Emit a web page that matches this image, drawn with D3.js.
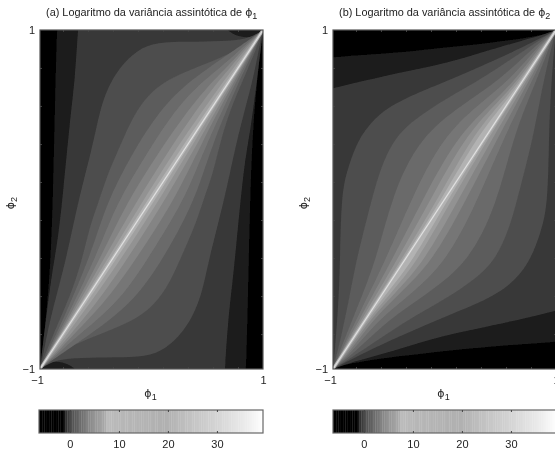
<!DOCTYPE html>
<html><head><meta charset="utf-8">
<script src="https://cdn.jsdelivr.net/npm/d3@7"></script>
<style>html,body{margin:0;background:#fff}svg{display:block}text{font-family:"Liberation Sans",Arial,sans-serif;fill:#222}</style>
</head><body><svg id="c" width="555" height="451"></svg>
<script>
// contour levels of the log-variance, from outermost band to the ridge
const levels = [-1.03,-0.5,0.28,1.08,2.05,2.84,3.72,4.8,6.2,7.3];
// colour bar read-off: value -> grey
const barValues = [-6.3,-1.4,-1.2,-0.7,0,0.6,2.4,4.1,5.4,7.1,7.5,10.2,19.7,23.8,29.9,36,39.4];
const barGreys  = [0,0,16,51,72,85,111,138,153,168,188,184,176,192,212,236,255];
const barTicks = [0,10,20,30];
const axisTicks = [-1,1];
const minorTicks = [-0.794,-0.57,-0.345,-0.121,0.103,0.327,0.552,0.776];
const ridge = [[-1,-1],[1,1]];

// phi2 rows at which the inner contours were read
const rowsA = [-0.888,-0.711,-0.327,-0.027,0.274,0.605,0.805,0.912];
const rowsB = [-0.917,-0.711,-0.369,0.027,0.369,0.558,0.705,0.912];

// Panel (a): upper contour of each level (the lower one is its point reflection)
const a1 = [[-1,-1],[-0.973,-0.858],[-0.91,-0.463],[-0.883,0.027],[-0.865,0.593],[-0.848,1],[-0.84,1.1],[0,1.2],[1,1.1],[1,1]];
const a2 = [[-1,-1],[-0.946,-0.705],[-0.892,-0.428],[-0.839,-0.239],[-0.794,0.032],[-0.731,0.469],[-0.686,0.711],[-0.659,1],[-0.65,1.1],[0,1.2],[0.6,1.1],[0.66,1],[0.79,0.955],[0.93,0.955],[1,1]];
const a3 = [[-1,-1],[-0.973,-0.923],[-0.91,-0.705],[-0.794,-0.428],[-0.722,-0.215],[-0.641,0.032],[-0.525,0.322],[-0.462,0.528],[-0.39,0.664],[-0.283,0.782],[-0.13,0.882],[0.049,0.929],[0.345,0.929],[0.641,0.935],[0.848,0.941],[1,1]];
const a4 = [[-1,-1],[-0.946,-0.9],[-0.821,-0.705],[-0.704,-0.528],[-0.614,-0.333],[-0.552,-0.156],[-0.48,-0.027],[-0.399,0.139],[-0.309,0.274],[-0.22,0.41],[-0.13,0.528],[-0.013,0.628],[0.139,0.705],[0.345,0.764],[0.641,0.841],[0.821,0.9],[1,1]];
const a5 = [-0.924,-0.794,-0.543,-0.408,-0.175,0.148,0.57,0.812];
const a6 = [-0.915,-0.771,-0.489,-0.318,-0.04,0.283,0.668,0.839];
const a7 = [-0.91,-0.753,-0.444,-0.229,0.058,0.408,0.713,0.857];
const a8 = [-0.904,-0.74,-0.408,-0.148,0.139,0.48,0.74,0.874];
const a9 = [-0.899,-0.726,-0.372,-0.094,0.193,0.543,0.767,0.892];
const a10 = [-0.892,-0.717,-0.345,-0.058,0.238,0.578,0.789,0.901];

// Panel (b)
const b1 = [[-1,-1],[-1.2,-0.9],[-1.2,0.82],[-1,0.841],[-0.578,0.858],[-0.283,0.876],[0.166,0.906],[0.614,0.941],[0.919,0.976],[1,1]];
const b2 = [[-1,-1],[-1.2,-0.9],[-1.2,0.62],[-1,0.658],[-0.578,0.723],[-0.283,0.764],[0.022,0.805],[0.318,0.864],[0.614,0.923],[0.883,0.97],[1,1]];
const b3 = [[-1,-1],[-0.982,-0.888],[-0.955,-0.652],[-0.937,-0.416],[-0.928,0.027],[-0.865,0.192],[-0.758,0.381],[-0.578,0.51],[-0.426,0.569],[-0.283,0.617],[0.022,0.699],[0.318,0.782],[0.614,0.87],[0.883,0.959],[1,1]];
const b4 = [[-1,-1],[-0.928,-0.817],[-0.848,-0.563],[-0.794,-0.369],[-0.704,-0.133],[-0.641,0.027],[-0.578,0.174],[-0.462,0.351],[-0.283,0.469],[0.022,0.599],[0.318,0.705],[0.614,0.835],[0.883,0.953],[1,1]];
const b5 = [-0.951,-0.83,-0.614,-0.471,-0.22,0.157,0.498,0.821];
const b6 = [-0.942,-0.794,-0.534,-0.283,-0.013,0.3,0.587,0.848];
const b7 = [-0.937,-0.767,-0.48,-0.175,0.112,0.408,0.637,0.865];
const b8 = [-0.931,-0.749,-0.435,-0.103,0.184,0.453,0.664,0.883];
const b9 = [-0.926,-0.731,-0.399,-0.04,0.247,0.489,0.682,0.897];
const b10 = [-0.922,-0.722,-0.381,-0.004,0.291,0.525,0.695,0.906];

const onRows = (vals,rows)=>[[-1,-1],...vals.map((v,i)=>[v,rows[i]]),[1,1]];
const curvesA = [a1,a2,a3,a4,...[a5,a6,a7,a8,a9,a10].map(v=>onRows(v,rowsA))];
const curvesB = [b1,b2,b3,b4,...[b5,b6,b7,b8,b9,b10].map(v=>onRows(v,rowsB))];

const grey = d3.scaleLinear().domain(barValues).range(barGreys.map(g=>d3.rgb(g,g,g)));
const svg = d3.select('#c');
const defs = svg.append('defs');
const addBlur=(id,s)=>defs.append('filter').attr('id',id).attr('x','-5%').attr('y','-5%').attr('width','110%').attr('height','110%')
  .append('feGaussianBlur').attr('stdDeviation',s);
addBlur('soft',0.5);addBlur('txt',0.3);

function panel(id,x0,curves,letter,sub,barLeft){
  const W=223,T=30,H=339;
  const x=d3.scaleLinear().domain([-1,1]).range([x0,x0+W]);
  const y=d3.scaleLinear().domain([-1,1]).range([T+H,T]);
  defs.append('clipPath').attr('id','clip'+id).append('rect').attr('x',x0).attr('y',T).attr('width',W).attr('height',H);
  const line=d3.line().x(d=>x(d[0])).y(d=>y(d[1])).curve(d3.curveBasis);
  const g=svg.append('g').attr('clip-path',`url(#clip${id})`);
  const f=g.append('g').attr('filter','url(#soft)');
  f.append('rect').attr('x',x0-3).attr('y',T-3).attr('width',W+6).attr('height',H+6).attr('fill',grey(-6));
  curves.forEach((c,i)=>{
    const upper=line(c), lower=line(c.map(p=>[-p[0],-p[1]]));
    f.append('path').attr('d',upper+'L'+lower.slice(1)+'Z').attr('fill',grey(levels[i]));
  });
  f.append('path').attr('d',line(ridge)).attr('stroke',grey(14)).attr('stroke-width',3).attr('fill','none');
  f.append('path').attr('d',line(ridge)).attr('stroke',grey(33)).attr('stroke-width',1.2).attr('fill','none');

  const ax=svg.append('g').attr('filter','url(#txt)');
  const minor=(sel,a)=>sel.call(a.tickValues(minorTicks).tickSize(2).tickFormat('')).call(s=>s.select('.domain').remove()).selectAll('line').attr('stroke','#444');
  ax.append('g').attr('transform',`translate(0,${T+H})`).call(s=>minor(s,d3.axisTop(x)));
  ax.append('g').attr('transform',`translate(0,${T})`).call(s=>minor(s,d3.axisBottom(x)));
  ax.append('g').attr('transform',`translate(${x0},0)`).call(s=>minor(s,d3.axisRight(y)));
  ax.append('g').attr('transform',`translate(${x0+W},0)`).call(s=>minor(s,d3.axisLeft(y)));
  ax.append('rect').attr('x',x0).attr('y',T).attr('width',W).attr('height',H).attr('fill','none').attr('stroke','#555').attr('stroke-width',1.2);
  const bottom=ax.append('g').attr('transform',`translate(0,${T+H})`).call(d3.axisBottom(x).tickValues(axisTicks).tickSize(0).tickPadding(7).tickFormat(d3.format('d')));
  const left=ax.append('g').attr('transform',`translate(${x0},0)`).call(d3.axisLeft(y).tickValues(axisTicks).tickSize(0).tickPadding(5).tickFormat(d3.format('d')));
  [bottom,left].forEach(s=>{s.select('.domain').remove();s.selectAll('text').attr('font-size',11).attr('font-family','"Liberation Sans"').attr('fill','#222');});
  bottom.selectAll('text').filter(d=>d<0).attr('dx',-3);

  const phi=(sel,n)=>{sel.append('tspan').text('ϕ').attr('font-family','"DejaVu Sans"');sel.append('tspan').text(n).attr('dy',3).attr('font-size',9);};
  ax.append('text').attr('x',x0+W/2-1).attr('y',397).attr('text-anchor','middle').attr('font-size',11).call(phi,'1');
  ax.append('text').attr('transform',`translate(${x0-26},203) rotate(-90)`).attr('text-anchor','middle').attr('font-size',11).call(phi,'2');
  const t=ax.append('text').attr('x',x0+6).attr('y',16).attr('font-size',10.9);
  t.append('tspan').text(`(${letter}) Logaritmo da variância assintótica de `);
  t.call(phi,sub);

  // colour bar
  const bx=d3.scaleLinear().domain([-6.3,39.4]).range([barLeft,barLeft+224]);
  const step=0.36;
  const steps=d3.range(-6.3,39.4,step);
  const B=ax.append('g');
  B.selectAll('rect').data(steps).join('rect').attr('x',d=>bx(d)).attr('y',410).attr('width',d=>bx(Math.min(d+step,39.4))-bx(d)+0.3).attr('height',23)
    .attr('fill',d=>grey(d+step/2));
  B.append('rect').attr('x',barLeft).attr('y',410).attr('width',224).attr('height',23).attr('fill','none').attr('stroke','#666').attr('stroke-width',1.2);
  const bt=B.append('g').attr('transform','translate(0,433)').call(d3.axisBottom(bx).tickValues(barTicks).tickSize(0).tickPadding(7).tickFormat(d3.format('d')));
  bt.select('.domain').remove();bt.selectAll('text').attr('font-size',11).attr('font-family','"Liberation Sans"').attr('fill','#222');
  B.append('g').attr('transform','translate(0,433)').call(d3.axisTop(bx).tickValues(barTicks).tickSize(2).tickFormat('')).call(s=>s.select('.domain').remove()).selectAll('line').attr('stroke','#444');
  B.append('g').attr('transform','translate(0,410)').call(d3.axisBottom(bx).tickValues(barTicks).tickSize(2).tickFormat('')).call(s=>s.select('.domain').remove()).selectAll('line').attr('stroke','#444');
}
panel('a',40,curvesA,'a','1',39);
panel('b',333,curvesB,'b','2',333);
</script></body></html>
